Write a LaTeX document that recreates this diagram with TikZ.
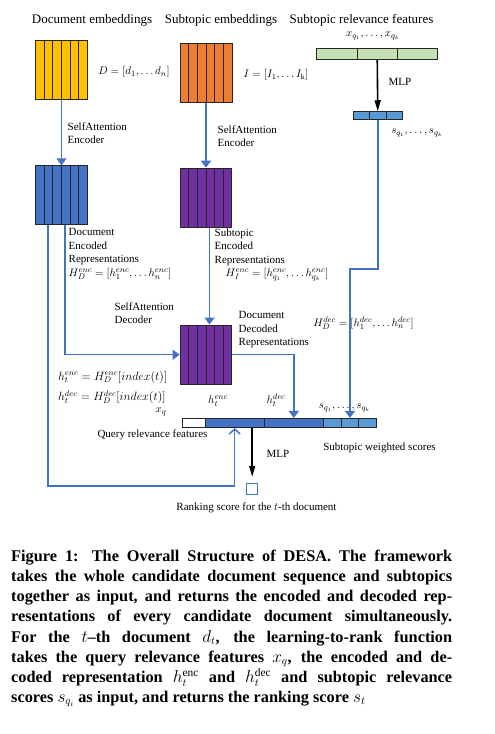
\documentclass[tikz,border=0pt]{standalone}
\usepackage{fontspec}
\setmainfont{Liberation Serif}
\usetikzlibrary{arrows.meta,calc}
\definecolor{cyel}{HTML}{FFC000}
\definecolor{cora}{HTML}{ED7D31}
\definecolor{cblu}{HTML}{4472C4}
\definecolor{cpur}{HTML}{7030A0}
\definecolor{cgrn}{HTML}{C5E0B4}
\definecolor{clbl}{HTML}{5B9BD5}
\definecolor{cline}{HTML}{4472C4}
\newcommand\myttl{\fontsize{13}{15}\selectfont}
\newcommand\mysml{\fontsize{11}{13.5}\selectfont}
\newcommand\mymid{\fontsize{12}{14}\selectfont}
\newcommand\mycap{\fontsize{16.3}{20.1}\selectfont\bfseries}
\begin{document}
\begin{tikzpicture}[x=1pt,y=-1pt,
  blockbox/.style={draw=black!85, line width=1pt, inner sep=0pt, minimum width=51.5pt, minimum height=59pt},
  stripes/.style={path picture={
     \foreach \i in {1,...,#1}{
       \draw[black!85, line width=0.9pt]
         ($(path picture bounding box.south west)!{\i/(#1+1)}!(path picture bounding box.south east)$) --
         ($(path picture bounding box.north west)!{\i/(#1+1)}!(path picture bounding box.north east)$);
     }}},
  barbox/.style={draw=black!85, line width=0.9pt, inner sep=0pt},
  blueline/.style={draw=cline, line width=1.5pt},
  bluearrow/.style={blueline, -{Triangle[width=10pt,length=7pt]}},
  openarrow/.style={blueline, -{Straight Barb[width=11pt,length=5pt]}},
  blackarrow/.style={draw=black, line width=1.6pt, -{Triangle[width=6pt,length=11pt]}},
  ttl/.style={font=\myttl, inner sep=0pt},
  lbl/.style={font=\mysml, inner sep=0pt},
  mlbl/.style={font=\mysml, inner sep=0pt, align=left}
]
\useasboundingbox (0,0) rectangle (495,734);
\fill[white] (0,0) rectangle (495,734);

% titles
\node[ttl] (t1) at (92,20) {Document embeddings};
\node[ttl] (t2) at (221,20) {Subtopic embeddings};
\node[ttl] (t3) at (361.5,20) {Subtopic relevance features};

% blocks
\node[blockbox, fill=cyel, stripes=5] (yel) at (61.5,70) {};
\node[blockbox, fill=cora, stripes=5, minimum width=52pt] (ora) at (206,72.5) {};
\node[blockbox, fill=cblu, stripes=5] (denc) at (61.5,195.3) {};
\node[blockbox, fill=cpur, stripes=5, minimum width=51.7pt, minimum height=59.7pt] (senc) at (206,198) {};
\node[blockbox, fill=cpur, stripes=5, minimum width=51.7pt, minimum height=59.3pt] (ddec) at (206,354.7) {};

% subtopic relevance bars
\node[barbox, fill=cgrn, stripes=2, minimum width=121pt, minimum height=11pt] (grn) at (377.2,53.5) {};
\node[barbox, fill=clbl, stripes=2, minimum width=49.7pt, minimum height=7.6pt] (sbar) at (377.8,115.5) {};

% bottom bar
\node[barbox, fill=white, minimum width=22.7pt, minimum height=9.2pt] (xq) at (193.7,423) {};
\node[barbox, fill=cblu, minimum width=59.3pt, minimum height=9.2pt] (henc) at (234.7,423) {};
\node[barbox, fill=cblu, minimum width=59pt, minimum height=9.2pt] (hdec) at (293.8,423) {};
\node[barbox, fill=clbl, stripes=2, minimum width=53.4pt, minimum height=9.2pt] (sq) at (350,423) {};
\node[draw=cline, line width=1pt, inner sep=0pt, minimum width=11pt, minimum height=11pt] (res) at (252.2,488.8) {};

% labels
\node[lbl] (lxq1) at (373,36) {$x_{q_1},\ldots,x_{q_k}$};
\node[lbl] (lD) at (134,72) {$D=[d_1,\ldots d_n]$};
\node[lbl] (lI) at (276,75) {$I=[I_1,\ldots I_{\mathrm{k}}]$};
\node[lbl] (lmlp1) at (400,82) {MLP};
\node[lbl] (ls1) at (417,133) {$s_{q_1},\ldots,s_{q_k}$};
\node[mlbl, anchor=north west] (lsae1) at (67.5,122.5) {SelfAttention\\Encoder};
\node[mlbl, anchor=north west] (lsae2) at (217.5,125.5) {SelfAttention\\Encoder};
\node[mlbl, anchor=north west] (lder) at (68.5,228.5) {Document\\Encoded\\Representations\\$H_D^{enc}=[h_1^{enc},\ldots h_n^{enc}]$};
\node[mlbl, anchor=north west] (lser) at (214.5,228.5) {Subtopic\\Encoded\\Representations\\\hspace*{11pt}$H_I^{enc}=[h_{q_1}^{enc},\ldots h_{q_k}^{enc}]$};
\node[mlbl, anchor=north west] (lsad) at (114.5,302.5) {SelfAttention\\Decoder};
\node[mlbl, anchor=north west] (lddr) at (238.5,311.5) {Document\\Decoded\\Representations};
\node[lbl] (lHd) at (363.5,323) {$H_D^{dec}=[h_1^{dec},\ldots h_n^{dec}]$};
\node[lbl, font=\mymid, anchor=west] (lf1) at (58,377) {$h_t^{enc}=H_D^{enc}[index(t)]$};
\node[lbl, font=\mymid, anchor=west] (lf2) at (58,397) {$h_t^{dec}=H_D^{dec}[index(t)]$};
\node[lbl] (lxq) at (161,412) {$x_q$};
\node[lbl] (lhe) at (218,401) {$h_t^{enc}$};
\node[lbl] (lhd) at (276,400) {$h_t^{dec}$};
\node[lbl] (ls2) at (344.5,408) {$s_{q_1},\ldots,s_{q_k}$};
\node[lbl] (lqrf) at (152.5,435) {Query relevance features};
\node[lbl] (lsws) at (379.5,448) {Subtopic weighted scores};
\node[lbl] (lmlp2) at (278,454) {MLP};
\node[lbl] (lrank) at (256.5,508) {Ranking score for the $t$-th document};

% connectors
\draw[bluearrow] (yel) -- (denc);
\draw[bluearrow] (ora) -- (senc);
\draw[blackarrow] (grn) -- (sbar);
\coordinate (k1) at (377.8,269);
\draw[bluearrow] (sbar.south) -- (k1) -| (sq.north);
\draw[bluearrow] ([xshift=3.5pt]senc.south) -- ([xshift=3.5pt]ddec.north);
\draw[bluearrow] ([xshift=3.5pt]denc.south) |- (ddec.west);
\coordinate (k2) at (234.7,486);
\draw[openarrow] ([xshift=-13.5pt]denc.south) |- (k2) -- (henc.south);
\draw[bluearrow] (ddec.east) -| (hdec.north);
\draw[blackarrow, shorten >=6pt] (res.north |- henc.south) -- (res.north);

% caption
\node[anchor=north west, text width=441pt, align=justify, font=\mycap, inner sep=0pt] (cap) at (11,550) {Figure 1: The Overall Structure of DESA. The framework\linebreak takes the whole candidate document sequence and subtopics\linebreak together as input, and returns the encoded and decoded rep-\linebreak resentations of every candidate document simultaneously.\linebreak For the $t$--th document $d_t$, the learning-to-rank function\linebreak takes the query relevance features $x_q$, the encoded and de-\linebreak coded representation $h_t^{\mathrm{enc}}$ and $h_t^{\mathrm{dec}}$ and subtopic relevance\linebreak scores $s_{q_i}$ as input, and returns the ranking score $s_t$};
\end{tikzpicture}
\end{document}
